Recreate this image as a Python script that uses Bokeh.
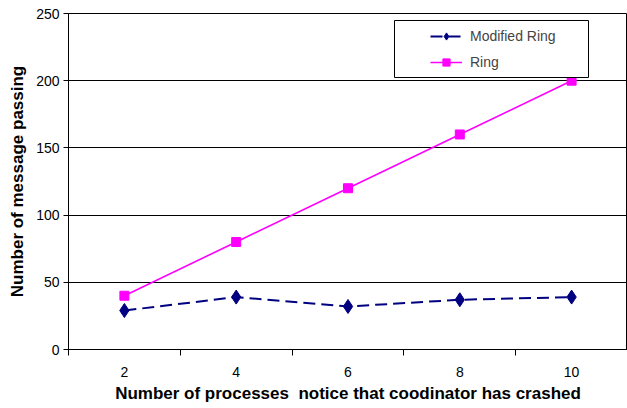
from bokeh.plotting import figure
from bokeh.models import FixedTicker, Legend, LegendItem, Range1d, BoxAnnotation
from bokeh.embed import file_html
from bokeh.resources import INLINE

processes = [2, 4, 6, 8, 10]
modified_ring = [29, 39, 32, 37, 39]
ring = [40, 80, 120, 160, 200]
y_ticks = [0, 50, 100, 150, 200, 250]
x_bounds = [1, 3, 5, 7, 9, 11]

p = figure(frame_width=559, frame_height=336, output_backend="svg", toolbar_location=None,
           x_range=Range1d(1, 11), y_range=Range1d(0, 250),
           min_border_left=68, min_border_right=0, min_border_top=13, min_border_bottom=59)
p.outline_line_color = "black"
p.outline_line_width = 1
p.background_fill_color = "white"
p.border_fill_color = "white"

p.xgrid.grid_line_color = None
p.ygrid.grid_line_color = "black"
p.ygrid.grid_line_width = 1
p.ygrid.ticker = FixedTicker(ticks=y_ticks)

p.xaxis.ticker = FixedTicker(ticks=processes, minor_ticks=x_bounds)
p.xaxis.major_tick_out = 0
p.xaxis.major_tick_in = 0
p.xaxis.minor_tick_out = 6
p.xaxis.minor_tick_in = 0
p.xaxis.minor_tick_line_color = "black"
p.xaxis.major_label_standoff = 11
p.yaxis.ticker = FixedTicker(ticks=y_ticks)
p.yaxis.major_tick_out = 5
p.yaxis.major_tick_in = 0
p.yaxis.minor_tick_line_color = None
p.yaxis.major_label_standoff = 4

for ax in (p.xaxis, p.yaxis):
    ax.axis_line_color = "black"
    ax.major_tick_line_color = "black"
    ax.major_label_text_font = "Liberation Sans"
    ax.major_label_text_font_size = "14px"
    ax.major_label_text_color = "black"
    ax.axis_label_text_font = "Liberation Sans"
    ax.axis_label_text_font_style = "bold"
    ax.axis_label_text_font_size = "17px"
    ax.axis_label_text_color = "black"

p.xaxis.axis_label = "Number of processes\u00a0 notice that coodinator has crashed"
p.xaxis.axis_label_standoff = 4
p.yaxis.axis_label = "Number of message passing"
p.yaxis.axis_label_standoff = 6

l1 = p.line(processes, modified_ring, line_color="#000080", line_width=2, line_dash="12 6")
m1 = p.scatter(processes, modified_ring, marker="diamond", size=14,
               fill_color="#000080", line_color="#000080")
l2 = p.line(processes, ring, line_color="#FF00FF", line_width=1.6)
m2 = p.scatter(processes, ring, marker="square", size=9, fill_color="#FF00FF", line_color="#FF00FF")

legend_box = BoxAnnotation(left=394, right=588, top=20, bottom=77,
                           left_units="canvas", right_units="canvas",
                           top_units="canvas", bottom_units="canvas",
                           fill_color="white", fill_alpha=1,
                           line_color="black", line_width=1, line_alpha=1)
p.add_layout(legend_box)

legend = Legend(items=[LegendItem(label="Modified Ring", renderers=[l1, m1]),
                       LegendItem(label="Ring", renderers=[l2, m2])],
                location=(362, 278))
legend.border_line_color = None
legend.background_fill_alpha = 0
legend.label_text_font = "Liberation Sans"
legend.label_text_font_size = "14px"
legend.glyph_width = 32
legend.glyph_height = 18
legend.label_height = 18
legend.padding = 0
legend.margin = 0
legend.spacing = 8
legend.label_standoff = 8
p.add_layout(legend, "center")

open("out.html", "w").write(file_html(p, INLINE))
